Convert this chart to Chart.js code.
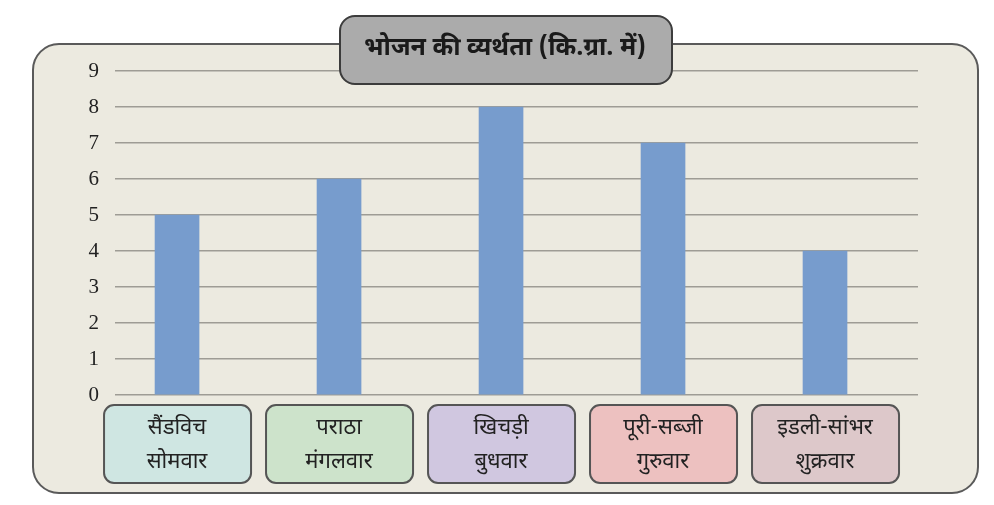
<!DOCTYPE html>
<html>
<head>
<meta charset="utf-8">
<script src="https://cdn.jsdelivr.net/npm/chart.js@4"></script>
<style>
  html, body { margin: 0; padding: 0; background: #fff; }
  #wrap { width: 994px; height: 505px; position: relative; }
</style>
</head>
<body>
<div id="wrap"><canvas id="chart"></canvas></div>
<script>
// values
const title = 'भोजन की व्यर्थता (कि.ग्रा. में)';
const dishes = ['सैंडविच', 'पराठा', 'खिचड़ी', 'पूरी-सब्जी', 'इडली-सांभर'];
const days = ['सोमवार', 'मंगलवार', 'बुधवार', 'गुरुवार', 'शुक्रवार'];
const waste = [5, 6, 8, 7, 4];
const yTicks = [0, 1, 2, 3, 4, 5, 6, 7, 8, 9];

const boxFills = ['#cfe6e2', '#cde3cb', '#d0c7e0', '#edc1c0', '#ddc8ca'];
const devFont = '"Noto Sans Devanagari", "Noto Sans", sans-serif';

function roundRect(ctx, x, y, w, h, r) {
    ctx.beginPath();
    ctx.moveTo(x + r, y);
    ctx.arcTo(x + w, y, x + w, y + h, r);
    ctx.arcTo(x + w, y + h, x, y + h, r);
    ctx.arcTo(x, y + h, x, y, r);
    ctx.arcTo(x, y, x + w, y, r);
    ctx.closePath();
}

// background panel behind everything
const panelPlugin = {
    id: 'panel',
    beforeDraw(chart) {
        const ctx = chart.ctx;
        ctx.save();
        roundRect(ctx, 33, 44, 945, 449, 26);
        ctx.fillStyle = '#eceae0';
        ctx.fill();
        ctx.lineWidth = 2;
        ctx.strokeStyle = '#5a5a5a';
        ctx.stroke();
        ctx.restore();
    }
};

// title box and category boxes on top
const labelPlugin = {
    id: 'labels',
    afterDraw(chart) {
        const ctx = chart.ctx;
        const xs = chart.scales.x;
        ctx.save();

        roundRect(ctx, 340, 16, 332, 68, 15);
        ctx.fillStyle = '#ababab';
        ctx.fill();
        ctx.lineWidth = 2;
        ctx.strokeStyle = '#3c3c3c';
        ctx.stroke();
        ctx.fillStyle = '#1a1a1a';
        ctx.font = 'bold 25px ' + devFont;
        ctx.textAlign = 'center';
        ctx.textBaseline = 'middle';
        ctx.fillText(title, 505, 50);

        dishes.forEach((d, i) => {
            const cx = xs.getPixelForValue(i);
            roundRect(ctx, cx - 73, 405, 147, 78, 10);
            ctx.fillStyle = boxFills[i];
            ctx.fill();
            ctx.lineWidth = 2;
            ctx.strokeStyle = '#555';
            ctx.stroke();
            ctx.fillStyle = '#222';
            ctx.font = '22px ' + devFont;
            ctx.fillText(d, cx, 430);
            ctx.fillText(days[i], cx, 464);
        });
        ctx.restore();
    }
};

new Chart(document.getElementById('chart'), {
    type: 'bar',
    data: {
        datasets: [{
            data: waste.map((v, i) => ({ x: i, y: v })),
            backgroundColor: '#779ccd',
            barThickness: 44
        }]
    },
    options: {
        responsive: true,
        maintainAspectRatio: false,
        animation: false,
        events: [],
        layout: { padding: { left: 30, right: 76, top: 71, bottom: 110 } },
        plugins: { legend: { display: false }, tooltip: { enabled: false } },
        scales: {
            x: {
                type: 'linear',
                min: -0.383,
                max: 4.574,
                offset: false,
                bounds: 'ticks',
                display: false
            },
            y: {
                min: 0,
                max: 9,
                afterFit: s => { s.width = 85; },
                afterBuildTicks: s => { s.ticks = yTicks.map(v => ({ value: v })); },
                border: { display: false },
                grid: { color: '#9e9c95', lineWidth: 1.5, drawTicks: false },
                ticks: {
                    padding: 16,
                    color: '#222',
                    font: { family: '"Liberation Serif", "DejaVu Serif", serif', size: 21 }
                }
            }
        }
    },
    plugins: [panelPlugin, labelPlugin]
});
</script>
</body>
</html>
